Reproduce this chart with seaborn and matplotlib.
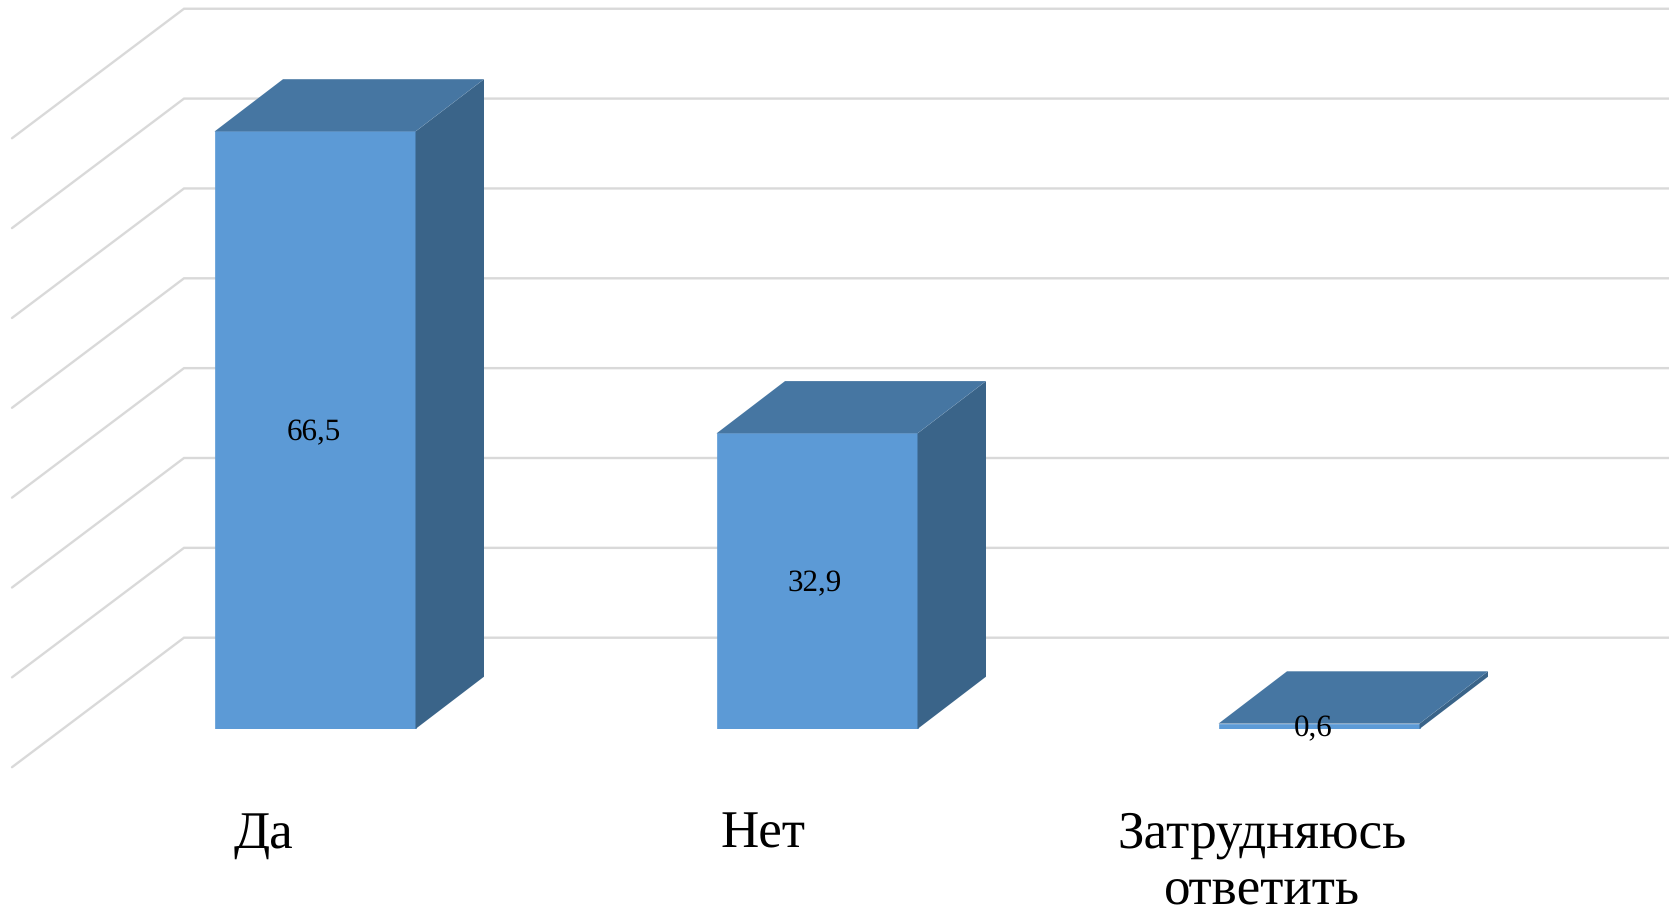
import matplotlib
matplotlib.use("Agg")
import matplotlib.pyplot as plt
from matplotlib.patches import Polygon
from matplotlib.transforms import IdentityTransform, ScaledTranslation
import seaborn as sns

categories = ["Да", "Нет", "Затрудняюсь\nответить"]
values = [66.5, 32.9, 0.6]
value_labels = ["66,5", "32,9", "0,6"]
grid_values = [0, 10, 20, 30, 40, 50, 60, 70]

# picture size and how the value / category scales sit on it (pixels)
W, H = 1669, 913
base_y = 729
px_per_unit = 8.985
first_bar_x = 315
bar_step = 502
bar_width = 201 / bar_step

# depth of the fake 3d look
depth_dx, depth_dy = 68.5, 52.3
wall_x, wall_dy = 184, 91.3
side_dx, side_dy = 172, 129.5

FRONT = "#5C9AD6"
TOP = "#4676A2"
SIDE = "#3A6489"
GRID = "#D9D9D9"

sns.set_style("white")
plt.rcParams["font.family"] = ["Liberation Serif", "DejaVu Serif"]
plt.rcParams["text.hinting"] = "no_hinting"
plt.rcParams["text.hinting_factor"] = 1

fig = plt.figure(figsize=(W / 100, H / 100), dpi=100)
ax = fig.add_axes([0, (H - base_y) / H, 1, base_y / H])

sns.barplot(x=categories, y=values, color=FRONT, saturation=1, width=bar_width,
            ax=ax, zorder=3, edgecolor=FRONT, linewidth=0.5)
ax.set_xlim(-first_bar_x / bar_step, (W - first_bar_x) / bar_step)
ax.set_ylim(0, base_y / px_per_unit)
ax.patch.set_visible(False)
sns.despine(ax=ax, left=True, bottom=True)
ax.set_yticks([])
ax.set_xlabel("")
ax.set_ylabel("")

px = IdentityTransform()

# back wall and side wall gridlines
for v in grid_values:
    y = ax.transData.transform((0, v))[1] + wall_dy
    ax.plot([wall_x - side_dx, wall_x, W], [y - side_dy, y, y], color=GRID, lw=1.7,
            transform=px, clip_on=False, zorder=1, solid_joinstyle="miter")

# top and side faces taken from each drawn bar
for bar in ax.patches:
    (x0, y0), (x1, y1) = ax.transData.transform(bar.get_bbox().get_points())
    top = [(x0, y1), (x1, y1), (x1 + depth_dx, y1 + depth_dy), (x0 + depth_dx, y1 + depth_dy)]
    side = [(x1, y0), (x1 + depth_dx, y0 + depth_dy), (x1 + depth_dx, y1 + depth_dy), (x1, y1)]
    ax.add_patch(Polygon(side, closed=True, fc=SIDE, ec="none", transform=px, clip_on=False, zorder=3))
    ax.add_patch(Polygon(top, closed=True, fc=TOP, ec="none", transform=px, clip_on=False, zorder=3))

# value labels, slightly left of the bar centre like the original
label_dx = [-1, -2, -4]
for i, (val, lab) in enumerate(zip(values, value_labels)):
    ax.annotate(lab, (i, val / 2), xytext=(label_dx[i], -2), textcoords="offset points",
                ha="center", va="center", fontsize=22.5, color="black", zorder=5,
                annotation_clip=False)

# category labels sit left of their bars
ax.tick_params(axis="x", length=0, pad=59, labelsize=38.5)
offsets = [-52, -54, -57]
for lab, dx in zip(ax.get_xticklabels(), offsets):
    lab.set_linespacing(1.25)
    lab.set_color("black")
    lab.set_transform(lab.get_transform() + ScaledTranslation(dx / 100, 0, fig.dpi_scale_trans))

fig.savefig("out.png", dpi=100, facecolor="white")
